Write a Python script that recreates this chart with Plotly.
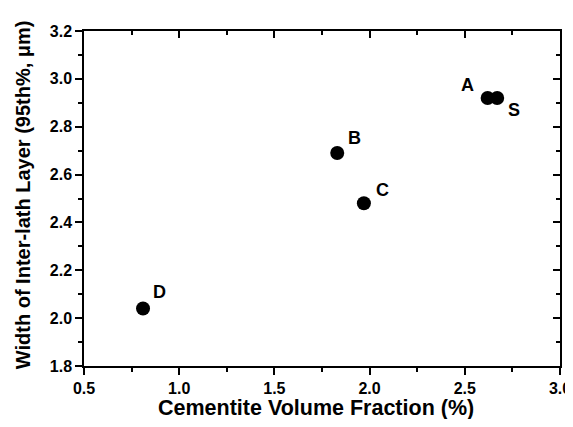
import plotly.graph_objects as go

labels = ["A", "S", "B", "C", "D"]
volume_fraction = [2.62, 2.67, 1.83, 1.97, 0.81]
width_95 = [2.92, 2.92, 2.69, 2.48, 2.04]
label_dx = [-20, 17, 17, 19, 16]
label_dy = [13, -12, 15, 13, 17]

x_range = [0.5, 3.0]
y_range = [1.8, 3.2]

font_fam = "Liberation Sans, Arial, sans-serif"

fig = go.Figure()
fig.add_trace(go.Scatter(
    x=volume_fraction, y=width_95, mode="markers",
    marker=dict(size=14, color="black"),
    showlegend=False, cliponaxis=False,
))
# invisible twin for inward top/right ticks
fig.add_trace(go.Scatter(
    x=volume_fraction, y=width_95, mode="markers", xaxis="x2", yaxis="y2",
    marker=dict(size=1, opacity=0), hoverinfo="skip", showlegend=False,
))

for lab, xv, yv, dx, dy in zip(labels, volume_fraction, width_95, label_dx, label_dy):
    fig.add_annotation(x=xv, y=yv, text=lab, showarrow=False, xshift=dx, yshift=dy,
                       font=dict(family=font_fam, size=18, color="black", weight="bold"))

fig.add_annotation(xref="paper", yref="paper", x=0.487, y=-0.125, yanchor="middle",
                   text="Cementite Volume Fraction (%)", showarrow=False,
                   font=dict(family=font_fam, size=21.5, color="black", weight="bold"))
fig.add_annotation(xref="paper", yref="paper", x=-0.128, y=0.51, xanchor="center",
                   yanchor="middle", textangle=-90,
                   text="Width of Inter-lath Layer (95th%, μm)", showarrow=False,
                   font=dict(family=font_fam, size=20, color="black", weight="bold"))

axis_common = dict(showgrid=False, zeroline=False, showline=True, automargin=False,
                   linecolor="black", linewidth=1.5, tickcolor="black",
                   tickwidth=1.5, ticklen=7)
tickfont = dict(family=font_fam, size=16, color="black", weight="bold")

fig.update_layout(
    width=565, height=411,
    margin=dict(l=76, r=13, t=23, b=53),
    paper_bgcolor="white", plot_bgcolor="white",
    xaxis=dict(range=x_range, dtick=0.5, tick0=0.5, ticks="outside",
               tickformat=".1f", tickfont=tickfont, ticklabeloverflow="allow",
               minor=dict(ticks="outside", dtick=0.25, ticklen=4, tickwidth=1.5, tickcolor="black"),
               **axis_common),
    yaxis=dict(range=y_range, dtick=0.2, tick0=1.8, ticks="outside",
               tickformat=".1f", tickfont=tickfont,
               minor=dict(ticks="outside", dtick=0.1, ticklen=4, tickwidth=1.5, tickcolor="black"),
               **axis_common),
    xaxis2=dict(range=x_range, overlaying="x", side="top", dtick=0.5, tick0=0.5,
                ticks="inside", showticklabels=False,
                minor=dict(ticks="inside", dtick=0.25, ticklen=4, tickwidth=1.5, tickcolor="black"),
                **axis_common),
    yaxis2=dict(range=y_range, overlaying="y", side="right", dtick=0.2, tick0=1.8,
                ticks="inside", showticklabels=False,
                minor=dict(ticks="inside", dtick=0.1, ticklen=4, tickwidth=1.5, tickcolor="black"),
                **axis_common),
)

fig.write_html("out.html")
